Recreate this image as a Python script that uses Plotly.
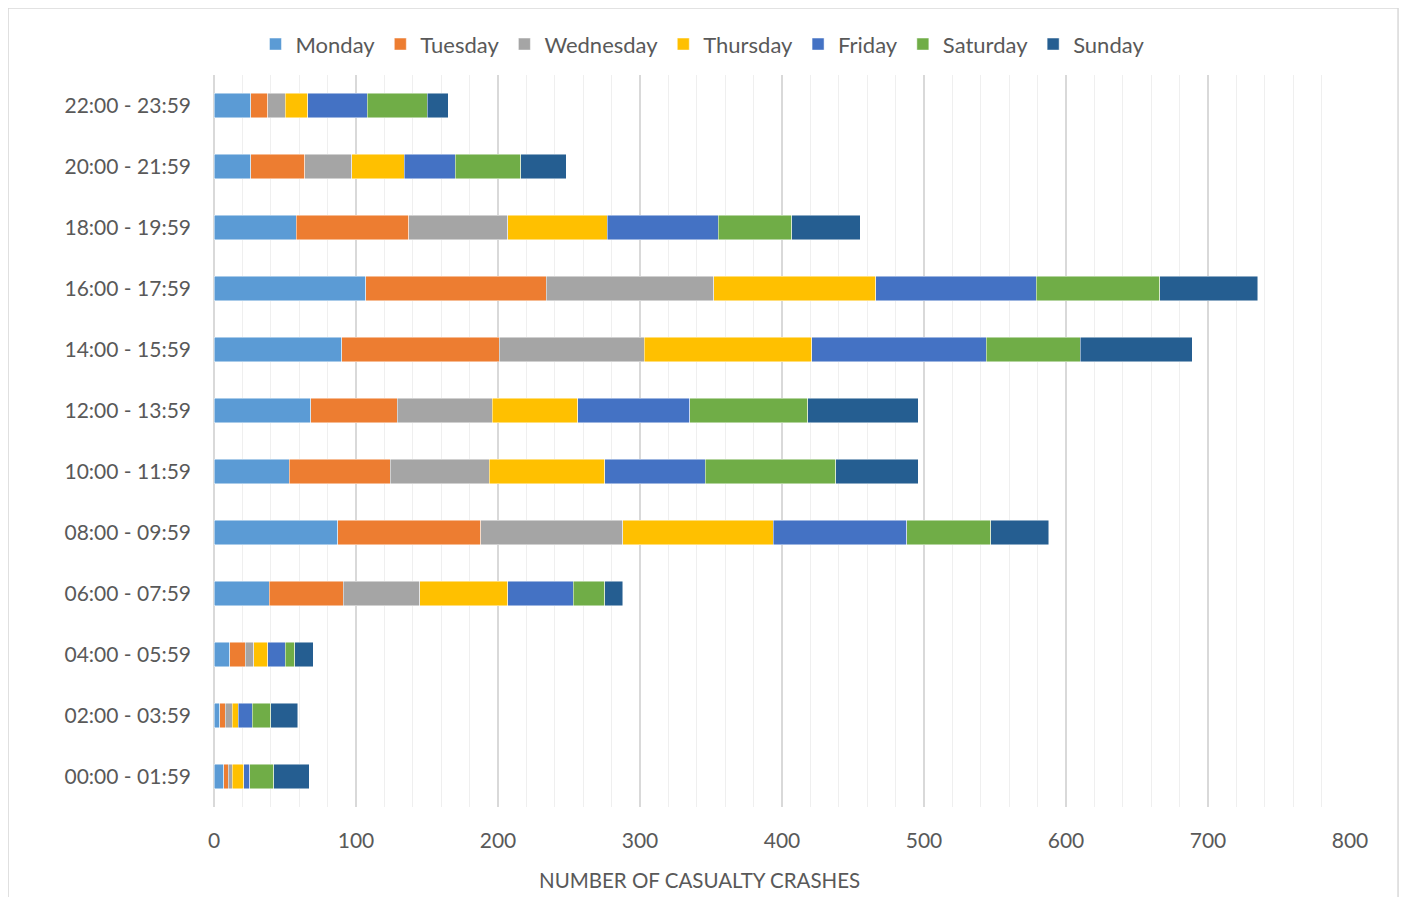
import plotly.graph_objects as go

time_bands = ["00:00 - 01:59", "02:00 - 03:59", "04:00 - 05:59", "06:00 - 07:59",
              "08:00 - 09:59", "10:00 - 11:59", "12:00 - 13:59", "14:00 - 15:59",
              "16:00 - 17:59", "18:00 - 19:59", "20:00 - 21:59", "22:00 - 23:59"]

monday = [7, 4, 11, 39, 87, 53, 68, 90, 107, 58, 26, 26]
tuesday = [3, 4, 11, 52, 101, 71, 61, 111, 127, 79, 38, 12]
wednesday = [3, 5, 6, 54, 100, 70, 67, 102, 118, 70, 33, 12]
thursday = [8, 4, 10, 62, 106, 81, 60, 118, 114, 70, 37, 16]
friday = [4, 10, 12, 46, 94, 71, 79, 123, 113, 78, 36, 42]
saturday = [17, 13, 7, 22, 59, 92, 83, 66, 87, 52, 46, 42]
sunday = [25, 19, 13, 13, 41, 58, 78, 79, 69, 48, 32, 15]

days = ["Monday", "Tuesday", "Wednesday", "Thursday", "Friday", "Saturday", "Sunday"]
series = [monday, tuesday, wednesday, thursday, friday, saturday, sunday]
colors = ["#5B9BD5", "#ED7D31", "#A5A5A5", "#FFC000", "#4472C4", "#70AD47", "#255E91"]

font_family = "Lato, 'Open Sans', sans-serif"

fig = go.Figure()
for name, vals, color in zip(days, series, colors):
    fig.add_trace(go.Bar(
        y=time_bands, x=vals, name=name, orientation="h",
        marker=dict(color=color, line=dict(color="rgba(255,255,255,0.6)", width=0.8)),
    ))

# the page body adds an 8px margin, so keep the figure inside the window
fig.update_layout(
    barmode="stack",
    bargap=0.6,
    width=1400, height=889,
    margin=dict(l=206, r=58, t=67, b=90),
    paper_bgcolor="white",
    plot_bgcolor="white",
    font=dict(family=font_family, size=21, color="#595959"),
    legend=dict(
        orientation="h", x=0.43, xanchor="center", y=1.042, yanchor="middle",
        font=dict(size=22, color="#595959"), traceorder="normal",
        bgcolor="rgba(0,0,0,0)",
    ),
    xaxis=dict(
        range=[0, 800], dtick=100, showgrid=True, gridcolor="#d9d9d9", gridwidth=1.5,
        zeroline=True, zerolinecolor="#d9d9d9", zerolinewidth=2,
        minor=dict(dtick=20, showgrid=True, gridcolor="#efefef", gridwidth=1),
        tickfont=dict(size=21, color="#595959"), ticks="", ticklabelstandoff=19,
    ),
    yaxis=dict(
        categoryorder="array", categoryarray=time_bands,
        tickfont=dict(size=21, color="#595959"), ticks="",
        showgrid=False, ticklabelstandoff=22,
    ),
    annotations=[dict(text="NUMBER OF CASUALTY CRASHES", xref="paper", yref="paper",
                      x=0.427, y=-0.0997, xanchor="center", yanchor="middle",
                      showarrow=False, font=dict(size=20.5, color="#595959"))],
    shapes=[dict(type="rect", xref="paper", yref="paper",
                 x0=-0.1813, x1=1.0423, y0=-0.135, y1=1.0915,
                 line=dict(color="#d9d9d9", width=1.5), layer="below")],
)

fig.write_html("out.html")
